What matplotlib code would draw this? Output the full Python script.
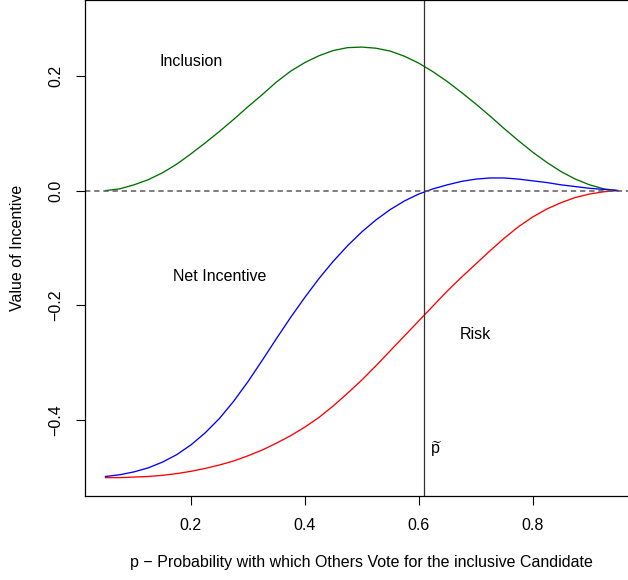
import matplotlib
matplotlib.use("Agg")
import matplotlib.pyplot as plt

plt.rcParams["font.family"] = ["Liberation Sans", "DejaVu Sans"]
plt.rcParams["mathtext.fontset"] = "custom"
plt.rcParams["mathtext.rm"] = "Liberation Sans"

# probability grid
p = [0.050, 0.075, 0.100, 0.125, 0.150, 0.175, 0.200, 0.225, 0.250, 0.275,
     0.300, 0.325, 0.350, 0.375, 0.400, 0.425, 0.450, 0.475, 0.500, 0.525,
     0.550, 0.575, 0.600, 0.625, 0.650, 0.675, 0.700, 0.725, 0.750, 0.775,
     0.800, 0.825, 0.850, 0.875, 0.900, 0.925, 0.950]

inclusion = [0.000, 0.003, 0.010, 0.019, 0.031, 0.046, 0.064, 0.083, 0.103, 0.124,
             0.146, 0.167, 0.189, 0.208, 0.223, 0.235, 0.244, 0.249, 0.250, 0.248,
             0.243, 0.234, 0.222, 0.207, 0.190, 0.171, 0.151, 0.130, 0.108, 0.087,
             0.067, 0.049, 0.033, 0.020, 0.010, 0.003, 0.000]

risk = [-0.500, -0.500, -0.499, -0.498, -0.496, -0.493, -0.489, -0.484, -0.478, -0.471,
        -0.462, -0.452, -0.440, -0.427, -0.412, -0.395, -0.375, -0.353, -0.330, -0.305,
        -0.279, -0.253, -0.227, -0.201, -0.175, -0.151, -0.128, -0.105, -0.083, -0.063,
        -0.046, -0.032, -0.021, -0.012, -0.006, -0.002, 0.000]

net_incentive = [-0.498, -0.495, -0.490, -0.483, -0.473, -0.460, -0.443, -0.422, -0.397, -0.367,
                 -0.333, -0.296, -0.258, -0.221, -0.186, -0.153, -0.123, -0.096, -0.072, -0.051,
                 -0.033, -0.018, -0.006, 0.003, 0.010, 0.016, 0.020, 0.022, 0.022, 0.020,
                 0.017, 0.014, 0.010, 0.007, 0.004, 0.002, 0.000]

p_tilde = 0.61

x_ticks = [0.2, 0.4, 0.6, 0.8]
y_ticks = [-0.4, -0.2, 0.0, 0.2]

W, H = 628, 580
fig = plt.figure(figsize=(W / 100, H / 100), dpi=100)
ax = fig.add_axes([85 / W, 84 / H, 553.6 / W, 496 / H])

ax.plot(p, inclusion, color="#007000", lw=0.95)
ax.plot(p, risk, color="#ff0000", lw=0.95)
ax.plot(p, net_incentive, color="#0000ff", lw=0.95)

ax.axhline(0.0, color="#5a5a5a", lw=1.1, linestyle=(0, (3.5, 2.5)))
ax.axvline(p_tilde, color="#333333", lw=0.9)

fs = 11.5
ax.text(0.2, 0.225, "Inclusion", ha="center", va="center", fontsize=fs)
ax.text(0.25, -0.15, "Net Incentive", ha="center", va="center", fontsize=fs)
ax.text(0.70, -0.25, "Risk", ha="center", va="center", fontsize=fs)
ax.text(0.63, -0.45, r"$\widetilde{\mathrm{p}}$", ha="center", va="center", fontsize=fs)

ax.set_xlim(0.014, 0.986)
ax.set_ylim(-0.532, 0.332)
ax.set_xticks(x_ticks)
ax.set_xticklabels([f"{v:.1f}" for v in x_ticks])
ax.set_yticks(y_ticks)
ax.set_yticklabels([f"{v:.1f}".replace("-", "\u2212") for v in y_ticks],
                   rotation=90, va="center")
ax.tick_params(direction="out", length=6.5, width=0.8, pad=9.4,
               labelsize=fs, color="black")
for s in ax.spines.values():
    s.set_linewidth(0.9)
    s.set_color("black")

fig.text(361.5 / W, 1 - 563 / H,
         "p \u2212 Probability with which Others Vote for the inclusive Candidate",
         ha="center", va="center", fontsize=fs)
fig.text(18 / W, 1 - 248 / H, "Value of Incentive", rotation=90,
         ha="center", va="center", fontsize=fs)

fig.savefig("out.png", dpi=100)
